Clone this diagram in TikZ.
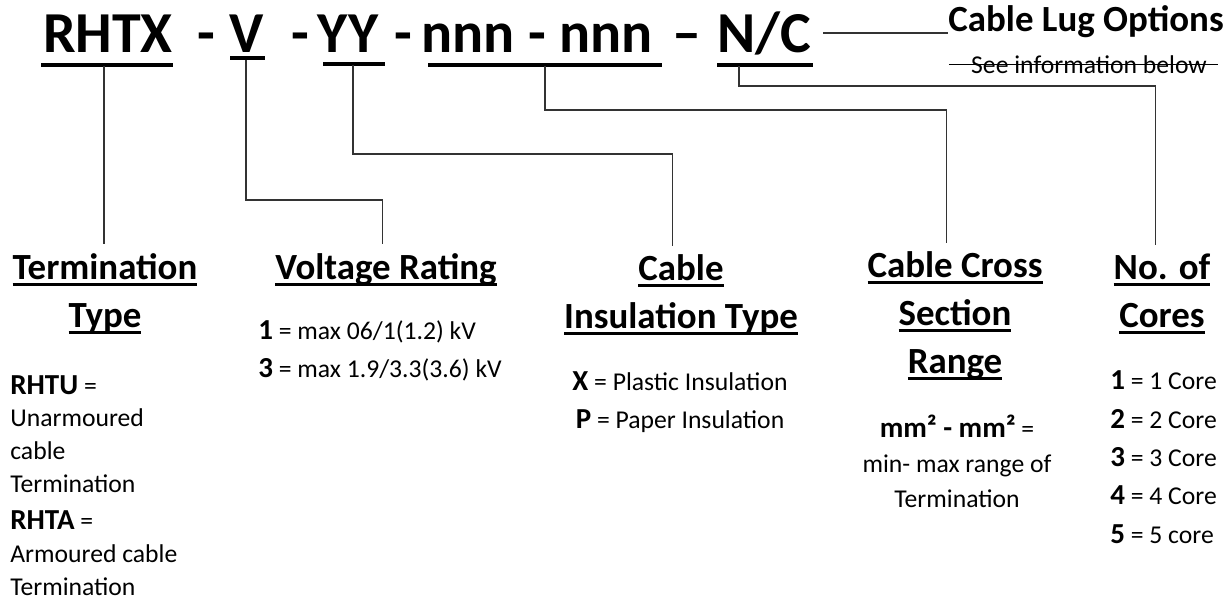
\documentclass[tikz,border=0pt]{standalone}
\usepackage{fontspec}
\setmainfont{Carlito}
\usetikzlibrary{positioning}

\newcommand{\hul}[1]{\setbox0=\hbox{#1}\rlap{\vrule height -2pt depth 3.7pt width \wd0}\box0}
\newcommand{\kw}[1]{{\fontsize{16.5}{18}\selectfont\bfseries #1}}

\begin{document}
\begin{tikzpicture}[x=0.02cm,y=-0.02cm,
  code/.style={font=\fontsize{33}{36}\selectfont\bfseries,inner sep=0pt,anchor=base},
  head/.style={font=\fontsize{21}{27.2}\selectfont\bfseries,align=center,
    inner sep=0pt,outer sep=5pt,anchor=base},
  desc/.style={inner sep=0pt,anchor=base west,align=left},
  uline/.style={line width=2.2pt},
  link/.style={line width=0.6pt,black!80}
]
\useasboundingbox (0,0) rectangle (1226,600);

% code line
\node[code] (rhtx) at (108,52) {RHTX};
\node[code] (d1) at (206,52) {-};
\node[code] (volt) at (247,52) {V};
\node[code] (d2) at (300,52) {-};
\node[code] (yy) at (348,52) {YY};
\node[code] (d3) at (403,52) {-};
\node[code] (nnn) at (537,52) {nnn - nnn};
\node[code] (d4) at (687,52) {–};
\node[code] (nc) at (764,52) {N/C};
\draw[uline] (41,65) -- (173,65);
\draw[uline] (230,58) -- (265,58);
\draw[uline] (323,64) -- (385,64);
\draw[uline] (428,65) -- (662,65);
\draw[uline] (717,65) -- (813,65);

\node[inner sep=0pt,anchor=base west,font=\fontsize{21}{22}\selectfont\bfseries]
  (lug) at (948,31) {Cable Lug Options};
\node[inner sep=0pt,anchor=base,font=\fontsize{14.6}{16}\selectfont]
  (see) at (1089,73) {See information below};
\draw[line width=0.6pt] ([xshift=-12.5pt,yshift=5pt]see.base west) -- ([xshift=6pt,yshift=5pt]see.base east);

% headings (anchored at the last line)
\node[head] (termH) at (105,327) {\hul{Termination}\\\hul{Type}};
\node[head] (voltH) at (386,279) {\hul{Voltage Rating}};
\node[head] (insH) at (681,328) {\hul{Cable}\\\hul{Insulation Type}};
\node[head] (crossH) at (955,373) {\hul{Cable Cross}\\\hul{Section}\\\hul{Range}};
\node[head] (coreH) at (1162,327) {\hul{No. of}\\\hul{Cores}};

% option lists
\node[desc,font=\fontsize{14.6}{18.7}\selectfont] (termB) at (10,595)
  {\kw{RHTU} =\\Unarmoured\\cable\\Termination\\[2.2pt]\kw{RHTA} =\\Armoured cable\\Termination};
\node[desc,font=\fontsize{14.6}{21.5}\selectfont] (voltB) at (258,377)
  {\kw{1} = max 06/1(1.2) kV\\\kw{3} = max 1.9/3.3(3.6) kV};
\node[desc,anchor=base,align=center,font=\fontsize{14.6}{21.5}\selectfont] (insB) at (680,428)
  {\kw{X} = Plastic Insulation\\\kw{P} = Paper Insulation};
\node[desc,anchor=base,align=center,font=\fontsize{14.6}{19.8}\selectfont] (crossB) at (957,507)
  {\kw{mm² - mm²} =\\min- max range of\\Termination};
\node[desc,font=\fontsize{14.6}{21.8}\selectfont] (coreB) at (1110,543)
  {\kw{1} = 1 Core\\\kw{2} = 2 Core\\\kw{3} = 3 Core\\\kw{4} = 4 Core\\\kw{5} = 5 core};

% leader lines
\coordinate (tR) at (104,66);
\coordinate (tV) at (246,60);
\coordinate (tY) at (353,65);
\coordinate (tN) at (545,66);
\coordinate (tC) at (739,66);
\coordinate (tL) at (823,33);
\draw[link] (tR) -- (tR |- termH.north);
\draw[link] (tV) -- ++(0,140) -| ([xshift=-2pt]voltH.north);
\draw[link] (tY) -- ++(0,89) -| ([xshift=-5pt]insH.north);
\draw[link] (tN) -- ++(0,44) -| ([xshift=-5pt]crossH.north);
\draw[link] (tC) -- ++(0,20) -| ([xshift=-3.5pt]coreH.north);
\draw[link] (tL) -- (tL -| lug.west);
\end{tikzpicture}
\end{document}
